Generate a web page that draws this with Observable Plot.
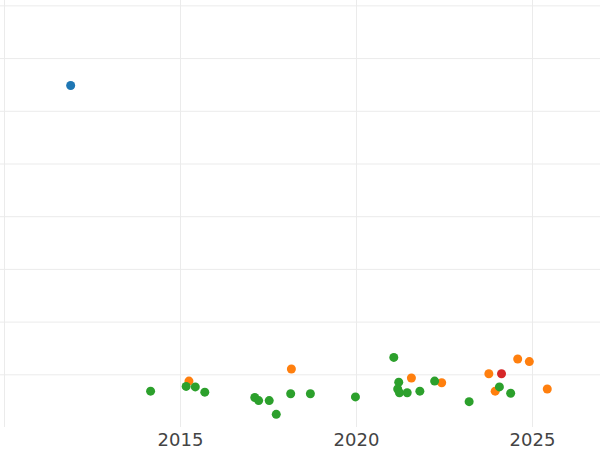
<!DOCTYPE html>
<html>
<head>
<meta charset="utf-8">
<script src="https://cdn.jsdelivr.net/npm/d3@7"></script>
<script src="https://cdn.jsdelivr.net/npm/@observablehq/plot@0.6"></script>
<style>
  html, body { margin: 0; padding: 0; background: #fff; }
  #chart svg { display: block; }
</style>
</head>
<body>
<div id="chart"></div>
<script>
// Series (category) names and colours
const categories = ["A", "B", "C", "D"];
const colors = ["#1f77b4", "#ff7f0e", "#d62728", "#2ca02c"];

// Points per category: year (x) and value (y)
const yearsA = [2011.88];
const valuesA = [6.49];

const yearsB = [2015.24, 2018.15, 2021.56, 2022.42, 2023.76, 2023.94, 2024.58, 2024.91, 2025.42];
const valuesB = [0.88, 1.11, 0.94, 0.85, 1.02, 0.69, 1.30, 1.25, 0.73];

const yearsC = [2024.12];
const valuesC = [1.02];

const yearsD = [2014.15, 2015.16, 2015.42, 2015.69, 2017.11, 2017.22, 2017.52, 2017.72, 2018.13, 2018.69,
                2019.97, 2021.06, 2021.20, 2021.17, 2021.22, 2021.44, 2021.80, 2022.22, 2023.20, 2024.06, 2024.38];
const valuesD = [0.69, 0.78, 0.77, 0.67, 0.57, 0.51, 0.51, 0.25, 0.64, 0.64,
                 0.58, 1.33, 0.86, 0.73, 0.66, 0.66, 0.69, 0.88, 0.49, 0.77, 0.65];

// Axis ticks / gridlines
const xGrid = [2010, 2015, 2020, 2025];
const xTickLabels = [2015, 2020, 2025];
const yGrid = [1, 2, 3, 4, 5, 6, 7, 8];

const data = [];
[[yearsA, valuesA, "A"], [yearsB, valuesB, "B"], [yearsC, valuesC, "C"], [yearsD, valuesD, "D"]]
  .forEach(([xs, ys, c]) => xs.forEach((x, i) => data.push({year: x, value: ys[i], cat: c})));

const chart = Plot.plot({
  width: 600,
  height: 450,
  marginLeft: 0,
  marginRight: 0,
  marginTop: 0,
  marginBottom: 23,
  style: {fontFamily: "DejaVu Sans", background: "#fff"},
  x: {domain: [2009.886, 2026.932], label: null},
  y: {domain: [0, 8.102], axis: null, label: null},
  color: {domain: categories, range: colors},
  marks: [
    Plot.ruleX(xGrid, {stroke: "#ebebeb", strokeWidth: 1}),
    Plot.ruleY(yGrid, {stroke: "#ebebeb", strokeWidth: 1}),
    Plot.axisX(xTickLabels, {tickSize: 0, tickPadding: 6, fontSize: 18, fill: "#444", label: null, tickFormat: d => String(d)}),
    Plot.dot(data, {x: "year", y: "value", fill: "cat", r: 4.5, stroke: "none"})
  ]
});
document.getElementById("chart").appendChild(chart);
</script>
</body>
</html>
